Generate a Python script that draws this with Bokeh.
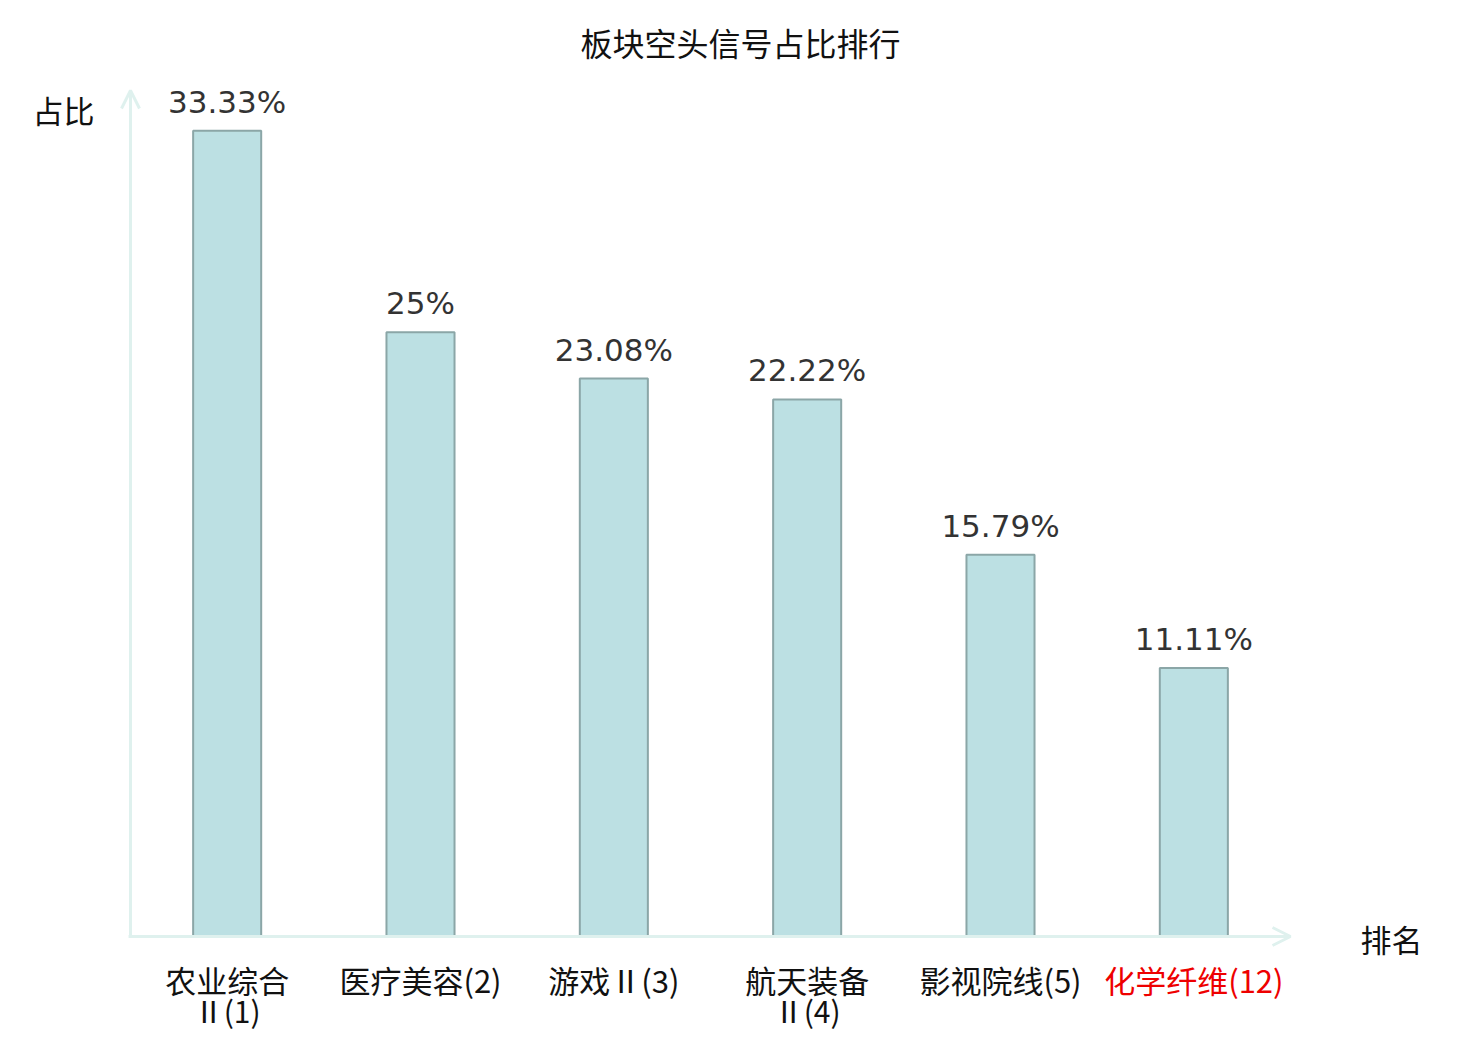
from bokeh.plotting import figure
from bokeh.models import ColumnDataSource, Range1d, Arrow, OpenHead, Label
from bokeh.core.properties import value
from bokeh.embed import file_html
from bokeh.resources import INLINE

title_text = "板块空头信号占比排行"
categories = ["农业综合\nⅡ(1)", "医疗美容(2)", "游戏Ⅱ(3)", "航天装备\nⅡ(4)", "影视院线(5)", "化学纤维(12)"]
values = [33.33, 25.0, 23.08, 22.22, 15.79, 11.11]
value_labels = ["33.33%", "25%", "23.08%", "22.22%", "15.79%", "11.11%"]
label_colors = ["#111111", "#111111", "#111111", "#111111", "#111111", "#ee0000"]
y_name = "占比"
x_name = "排名"
y_max = 35

n = len(categories)
xs = [i + 0.5 for i in range(n)]
line1 = [c.split("\n")[0] for c in categories]
line2 = [c.split("\n")[1] if "\n" in c else "" for c in categories]

src = ColumnDataSource(dict(x=xs, top=values, vlab=value_labels, l1=line1, l2=line2, col=label_colors))

W, H = 1464, 1030
# plot area in pixels (from top-left of figure)
L, R, T, B = 130, 1290, 90, 936
xpx = (R - L) / n
ypx = (B - T) / y_max
x_range = Range1d(-L / xpx, (W - L) / xpx)
y_range = Range1d(-(H - B) / ypx, B / ypx)

p = figure(width=W, height=H, output_backend="svg", toolbar_location=None,
           x_range=x_range, y_range=y_range,
           min_border=0, min_border_left=0, min_border_right=0, min_border_top=0, min_border_bottom=0)
p.axis.visible = False
p.grid.visible = False
p.outline_line_color = None
p.background_fill_color = "white"
p.border_fill_color = "white"

p.vbar(x="x", top="top", width=0.352, bottom=0, source=src,
       fill_color="#bce0e3", line_color="#8ba6a7", line_width=2)

p.text(x="x", y="top", text="vlab", source=src, text_align="center", text_baseline="alphabetic",
       y_offset=-29, text_font=value("DejaVu Sans"), text_font_size="31px", text_color="#333333")

cat_font = value("Noto Sans CJK SC")
p.text(x="x", y=0, text="l1", source=src, text_align="center", text_baseline="middle",
       y_offset=43, text_font=cat_font, text_font_size="31px", text_color="col")
p.text(x="x", y=0, text="l2", source=src, text_align="center", text_baseline="middle",
       y_offset=73, text_font=cat_font, text_font_size="30px", text_color="col")

axis_col = "#dff1ee"
p.add_layout(Arrow(end=OpenHead(size=18, line_color=axis_col, line_width=3),
                   x_start=-0.01, y_start=0, x_end=n, y_end=0, line_color=axis_col, line_width=3))
p.add_layout(Arrow(end=OpenHead(size=18, line_color=axis_col, line_width=3),
                   x_start=0, y_start=0, x_end=0, y_end=y_max, line_color=axis_col, line_width=3))

p.add_layout(Label(x=(740 - L) / xpx, y=(B - 41) / ypx, text=title_text, text_align="center",
                   text_baseline="middle", text_font="Noto Sans CJK SC", text_font_size="32px",
                   text_color="#111111"))
p.add_layout(Label(x=(63 - L) / xpx, y=(B - 109) / ypx, text=y_name, text_align="center",
                   text_baseline="middle", text_font="Noto Sans CJK SC", text_font_size="31px",
                   text_color="#111111"))
p.add_layout(Label(x=(1391 - L) / xpx, y=(B - 938) / ypx, text=x_name, text_align="center",
                   text_baseline="middle", text_font="Noto Sans CJK SC", text_font_size="31px",
                   text_color="#111111"))

open("out.html", "w").write(file_html(p, INLINE))
